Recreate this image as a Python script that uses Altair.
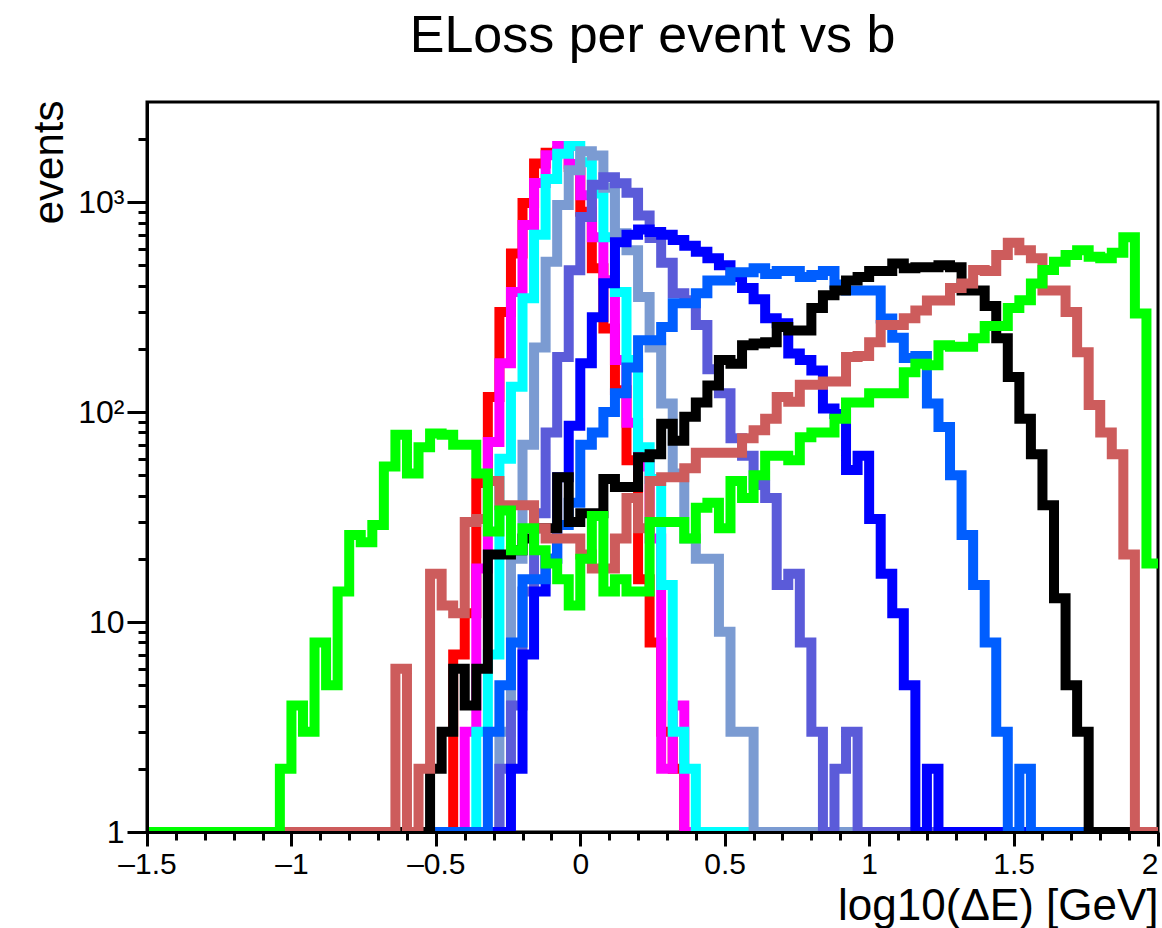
import altair as alt
import pandas as pd

# Histogram binning: 0.04-wide bins in log10(dE); the first edge sits just left of the axis start
BIN_WIDTH = 0.04
FIRST_EDGE = -1.52
N_BINS = 88            # last bin ends at 2.0
Y_MIN = 1              # empty bins sit on the bottom of the log axis

# One histogram per impact-parameter slice: first bin edge and bin contents
series_names = ["b0", "b1", "b2", "b3", "b4", "b5", "b6", "b7", "b8", "b9"]
series_colors = ["#ff0000", "#ff00ff", "#00ffff", "#7b9bd2", "#5b5bd9",
                 "#0000ff", "#005eff", "#000000", "#cd5c5c", "#00ff00"]
series_starts = [-0.44, -0.40, -0.36, -0.28, -0.28, -0.24, -0.32, -0.52, -0.64, -1.04]

counts_b0 = [7, 11, 46, 118, 300, 570, 990, 1530, 1720, 1750,
             1470, 900, 485, 250, 127, 59, 16, 8, 3, 2]
counts_b1 = [3, 18, 72, 171, 373, 778, 1235, 1675, 1850, 1520,
             1080, 680, 425, 177, 89, 55, 25, 2, 4]
counts_b2 = [3, 7, 60, 132, 349, 700, 1290, 1700, 1850, 1550,
             1100, 680, 373, 177, 68, 48, 15, 3, 2]
counts_b3 = [3, 20, 70, 203, 520, 970, 1420, 1750, 1670, 1170,
             711, 590, 353, 203, 110, 51, 25, 20, 20, 9, 3, 3]
counts_b4 = [2, 4, 14, 33, 80, 183, 474, 849, 1210, 1315,
             1230, 1110, 863, 675, 514, 368, 341, 260, 160, 123,
             75, 62, 45, 39, 15, 17, 8, 3, 0, 2, 3]
counts_b5 = [2, 7, 14, 20, 49, 86, 171, 283, 411, 645,
             700, 740, 720, 700, 660, 620, 580, 540, 500, 440,
             390, 345, 280, 265, 190, 177, 158, 104, 98, 53,
             62, 31, 17, 11, 5, 0, 2]
counts_b6 = [3, 5, 8, 16, 16, 20, 29, 37, 70, 80,
             100, 123, 163, 220, 220, 254, 330, 330, 368, 424,
             424, 464, 464, 485, 455, 470, 470, 440, 450, 470,
             405, 380, 380, 380, 279, 226, 181, 185, 110, 85,
             50, 26, 15, 8, 3, 0, 2]
counts_b7 = [2, 3, 6, 4, 6, 21, 21, 22, 25, 28,
             28, 49, 30, 33, 33, 48, 44, 44, 61, 63,
             88, 73, 95, 111, 134, 177, 170, 208, 212, 215,
             254, 245, 245, 313, 360, 380, 424, 440, 470, 470,
             510, 485, 490, 490, 500, 490, 380, 380, 320, 225,
             147, 93, 63, 36, 13, 5, 3]
counts_b8 = [6, 0, 2, 17, 12, 11, 30, 31, 47, 36,
             36, 36, 28, 25, 25, 25, 21, 18, 18, 25,
             39, 28, 47, 49, 49, 54, 64, 64, 64, 64,
             75, 82, 93, 118, 112, 135, 135, 140, 140, 183,
             185, 215, 260, 260, 280, 305, 340, 340, 390, 410,
             475, 470, 560, 640, 590, 540, 380, 380, 300, 193,
             108, 80, 63, 21]
counts_b9 = [2, 4, 3, 8, 5, 14, 26, 24, 29, 55,
             78, 51, 68, 79, 78, 70, 70, 51, 27, 34,
             22, 28, 22, 19, 16, 12, 20, 32, 14, 16,
             14, 14, 30, 30, 30, 25, 35, 37, 28, 47,
             39, 50, 62, 62, 59, 76, 80, 80, 93, 111,
             111, 123, 123, 123, 155, 170, 167, 208, 205, 205,
             225, 257, 257, 313, 341, 410, 475, 520, 560, 590,
             550, 540, 575, 680, 295, 19]
series_counts = [counts_b0, counts_b1, counts_b2, counts_b3, counts_b4,
                 counts_b5, counts_b6, counts_b7, counts_b8, counts_b9]

# Axis ticks
x_major = [-1.5, -1.0, -0.5, 0.0, 0.5, 1.0, 1.5, 2.0]
x_minor = [-1.4, -1.3, -1.2, -1.1, -0.9, -0.8, -0.7, -0.6, -0.4, -0.3, -0.2, -0.1,
           0.1, 0.2, 0.3, 0.4, 0.6, 0.7, 0.8, 0.9, 1.1, 1.2, 1.3, 1.4,
           1.6, 1.7, 1.8, 1.9]
y_major = [1, 10, 100, 1000]
y_minor = [2, 3, 4, 5, 6, 7, 8, 9, 20, 30, 40, 50, 60, 70, 80, 90,
           200, 300, 400, 500, 600, 700, 800, 900, 2000]

# Step-outline table: one point per left bin edge plus the closing right edge
rows = []
for name, start, vals in zip(series_names, series_starts, series_counts):
    offset = round((start - FIRST_EDGE) / BIN_WIDTH)
    for k in range(N_BINS + 1):
        edge = round(FIRST_EDGE + k * BIN_WIDTH, 2)
        j = min(k, N_BINS - 1) - offset
        n = vals[j] if 0 <= j < len(vals) else 0
        rows.append({"series": name, "edge": edge, "events": max(n, Y_MIN)})
df = pd.DataFrame(rows)

FONT = "Liberation Sans"
x_scale = alt.Scale(domain=[-1.5, 2.0], nice=False, zero=False)
y_scale = alt.Scale(type="log", domain=[1, 3000], nice=False)

x_axis = alt.Axis(
    values=x_major, orient="bottom", zindex=1,
    labelExpr="datum.value < 0 ? '\u2013' + format(-datum.value, '~g') : format(datum.value, '~g')",
    labelFont=FONT, labelFontSize=30, labelColor="black", labelPadding=3,
    labelFlush=False, labelOverlap=False,
    labelAlign={"condition": {"test": "datum.value >= 2", "value": "right"}, "value": "center"},
    tickSize=14, tickWidth=3, tickColor="black",
    domainWidth=3, domainColor="black", grid=False,
    title="log10(\u0394E) [GeV]", titleFont=FONT, titleFontSize=44,
    titleFontWeight="normal", titleColor="black",
    titleAlign="right", titleBaseline="alphabetic", titleX=1011, titleY=87,
)
y_axis = alt.Axis(
    values=y_major, orient="left", zindex=1,
    labelExpr="datum.value >= 1000 ? '10\u00b3' : datum.value >= 100 ? '10\u00b2' : datum.value >= 10 ? '10' : '1'",
    labelFont=FONT, labelFontSize=32, labelColor="black", labelPadding=3,
    labelFlush=False, labelOverlap=False, labelBaseline="middle",
    tickSize=20, tickWidth=3, tickColor="black",
    domainWidth=3, domainColor="black", grid=False,
    title="events", titleFont=FONT, titleFontSize=42, titleFontWeight="normal",
    titleColor="black", titleAngle=270, titleAlign="right",
    titleBaseline="alphabetic", titleX=-85, titleY=-2,
)
x_minor_axis = alt.Axis(values=x_minor, orient="bottom", zindex=1, labels=False,
                        domain=False, grid=False, title=None,
                        tickSize=8, tickWidth=3, tickColor="black")
y_minor_axis = alt.Axis(values=y_minor, orient="left", zindex=1, labels=False,
                        domain=False, grid=False, title=None,
                        tickSize=9, tickWidth=3, tickColor="black")

layers = []
for i, (name, color) in enumerate(zip(series_names, series_colors)):
    layers.append(
        alt.Chart(df)
        .transform_filter(alt.datum.series == name)
        .mark_line(interpolate="step-after", color=color, strokeWidth=10,
                   strokeJoin="miter", clip=True)
        .encode(
            x=alt.X("edge:Q", scale=x_scale, axis=x_axis if i == 0 else None),
            y=alt.Y("events:Q", scale=y_scale, axis=y_axis if i == 0 else None),
        )
    )

# invisible copy that carries the minor tick marks
minor = (
    alt.Chart(df)
    .transform_filter(alt.datum.series == series_names[0])
    .mark_line(opacity=0, clip=True)
    .encode(
        x=alt.X("edge:Q", scale=x_scale, axis=x_minor_axis),
        y=alt.Y("events:Q", scale=y_scale, axis=y_minor_axis),
    )
)

chart = (
    alt.layer(minor, *layers)
    .resolve_axis(x="independent", y="independent")
    .properties(
        width=1011, height=730,
        autosize="none",
        padding={"left": 147, "top": 102, "right": 4, "bottom": 96},
        background="white",
        title=alt.TitleParams(
            "ELoss per event vs b", font=FONT, fontSize=52, fontWeight="normal",
            color="black", anchor="middle", baseline="alphabetic",
            frame="group", offset=44, dy=48,
        ),
    )
    .configure_view(stroke="black", strokeWidth=3)
)

chart.save("out.html", embed_options={"renderer": "svg", "actions": False})
